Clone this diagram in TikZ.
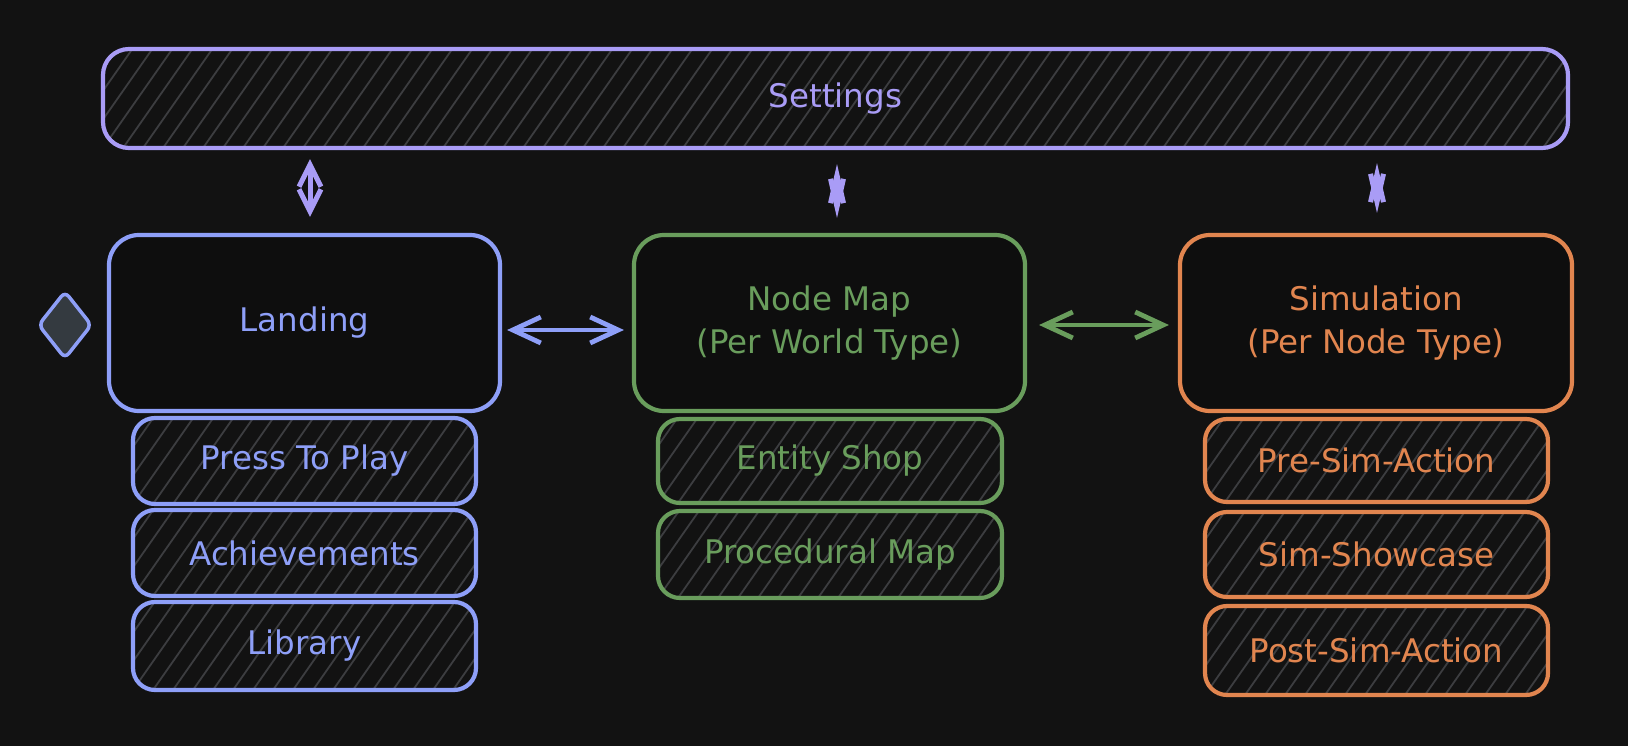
\documentclass[tikz,border=0pt]{standalone}
\usepackage{fontspec}
\setmainfont{DejaVu Sans}
\usetikzlibrary{arrows.meta,shapes.geometric,calc}
\definecolor{bg}{HTML}{121212}
\definecolor{inner}{HTML}{0E0E0E}
\definecolor{cset}{HTML}{A99CF6}
\definecolor{cblue}{HTML}{8E9FF8}
\definecolor{cgreen}{HTML}{699D5C}
\definecolor{corange}{HTML}{E1854F}
\definecolor{hatchc}{HTML}{3C3D40}
\definecolor{dfill}{HTML}{343A40}
\begin{document}
\begin{tikzpicture}[x=1pt,y=-1pt,
  every node/.style={font=\fontsize{32.5}{43}\selectfont, inner sep=0pt, align=center},
  hatched/.style={path picture={\foreach \k in {-8,...,80}{\draw[hatchc,line width=1.8pt] ([xshift=\k*20pt]path picture bounding box.south west) -- ++(55:220pt);}}},
  bigbox/.style={draw=#1, text=#1, line width=4.2pt, fill=inner, rounded corners=30pt, minimum height=176pt},
  subbox/.style={draw=#1, text=#1, line width=4.2pt, fill=bg, rounded corners=22pt, hatched, minimum width=343pt, minimum height=86pt},
  harrow/.style={draw=#1, line width=4.8pt, line cap=round, line join=round, {Straight Barb[length=28pt,width=26pt]}-{Straight Barb[length=28pt,width=26pt]}},
  varrow/.style={draw=cset, line width=5pt, line cap=round, line join=round, {Straight Barb[length=22pt,width=22pt]}-{Straight Barb[length=22pt,width=22pt]}},
  varrowb/.style={draw=cset, line width=5pt, line cap=round, line join=round, {Straight Barb[length=28pt,width=13pt]}-{Straight Barb[length=28pt,width=13pt]}}
]
\useasboundingbox (0,0) rectangle (1628,746);
\fill[bg] (0,0) rectangle (1628,746);

% Settings bar
\node[bigbox=cset, fill=bg, hatched, rounded corners=26pt, minimum width=1465pt, minimum height=99pt] (settings) at (835.5,98.5) {Settings};

% Main boxes
\node[bigbox=cblue, minimum width=391pt] (land) at (304.5,323) {Landing};
\node[bigbox=cgreen, minimum width=391pt] (nodemap) at (829.5,323) {Node Map\\(Per World Type)};
\node[bigbox=corange, minimum width=392pt] (sim) at (1376,323) {Simulation\\(Per Node Type)};

% Start diamond
\node[diamond, draw=cblue, fill=dfill, line width=3.5pt, rounded corners=6pt, minimum width=54pt, minimum height=68pt] (start) at (65,325) {};

% Sub boxes
\node[subbox=cblue] (press) at (304.5,461) {Press To Play};
\node[subbox=cblue] (ach) at (304.5,553) {Achievements};
\node[subbox=cblue, minimum height=88pt] (lib) at (304.5,646) {Library};

\node[subbox=cgreen, minimum width=344pt, minimum height=84pt] (shop) at (830,461) {Entity Shop};
\node[subbox=cgreen, minimum width=344pt, minimum height=87pt] (proc) at (830,554.5) {Procedural Map};

\node[subbox=corange, minimum height=83pt] (pre) at (1376.5,460.5) {Pre-Sim-Action};
\node[subbox=corange, minimum height=85pt] (show) at (1376.5,554.5) {Sim-Showcase};
\node[subbox=corange, minimum height=89pt] (post) at (1376.5,650.5) {Post-Sim-Action};

% Horizontal arrows
\draw[harrow=cblue] ([xshift=5pt,yshift=-7pt]land.east) -- ([xshift=-8pt,yshift=-7pt]nodemap.west);
\draw[harrow=cgreen] ([xshift=12pt,yshift=-2pt]nodemap.east) -- ([xshift=-9pt,yshift=-2pt]sim.west);

% Vertical arrows
\draw[varrow] ($(settings.south -| land.north)+(5.5,9)$) -- ($(land.north)+(5.5,-16)$);
\draw[varrowb] ($(settings.south -| nodemap.north)+(7.5,14)$) -- ($(nodemap.north)+(7.5,-15)$);
\draw[varrowb] ($(settings.south -| sim.north)+(1,13)$) -- ($(sim.north)+(1,-20)$);
\end{tikzpicture}
\end{document}
